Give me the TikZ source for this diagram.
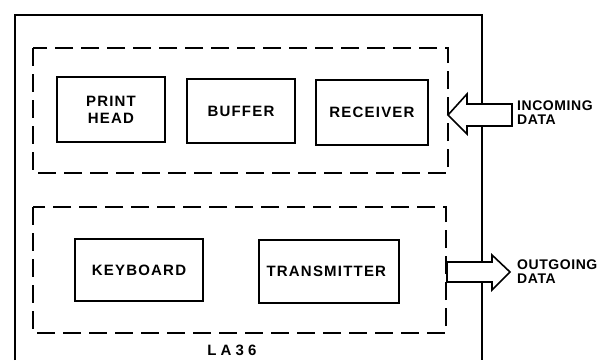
\documentclass[tikz,border=0pt]{standalone}
\usepackage{fontspec}
\setmainfont{Liberation Sans}
\usepackage{tikz}

\tikzset{
    unit/.style={draw, line width=1.4pt, inner sep=0pt, align=center,
        font=\fontsize{15}{17}\selectfont\bfseries\addfontfeature{LetterSpace=8}},
    group/.style={line width=2.4pt, dash pattern=on 18pt off 8pt},
    blockarrow/.style={draw, line width=1.6pt, fill=white, line join=miter},
    sidetext/.style={anchor=west, align=left, inner sep=0pt,
        font=\fontsize{14}{14}\selectfont\bfseries\addfontfeature{LetterSpace=4}}
}

\begin{document}
\begin{tikzpicture}[x=1pt, y=-1pt]
    		\useasboundingbox (0,0) rectangle (607,360);
    		
    		% outer frame, open at the bottom
    		\draw[line width=2pt] (15,360) -- (15,15) -- (482,15) -- (482,360);
    		
    		% the two dashed groups
    		\draw[group] (33,48) rectangle (448,173);
    		\draw[group] (33,207) rectangle (446,333);
    		
    		\foreach \name/\x/\y/\w/\h/\label in {
    			head/111/109.5/108/65/{PRINT\\HEAD},
    			buffer/241/111/108/64/BUFFER,
    			receiver/372/112.5/112/65/RECEIVER,
    			keyboard/139/270/128/62/KEYBOARD,
    			transmitter/329/271.5/140/63/TRANSMITTER
    		}{
    			\node[unit, minimum width=\w pt, minimum height=\h pt] (\name) at (\x,\y) {\label};
    		}
    		
    		\node[font=\fontsize{15}{15}\selectfont\bfseries] (model) at (232,350) {L A 3 6};
    		
    		% incoming data arrow
    		\coordinate (intip) at (448,115);
    		\draw[blockarrow] (intip) -- (467,94) -- (467,104) -- (512,104)
    			-- (512,126) -- (467,126) -- (467,134) -- cycle;
    		\node[sidetext] (incoming) at (517,113) {INCOMING\\DATA};
    		
    		% outgoing data arrow
    		\coordinate (outtip) at (510,272);
    		\draw[blockarrow] (outtip) -- (492,255) -- (492,262) -- (447,262)
    			-- (447,282) -- (492,282) -- (492,290) -- cycle;
    		\node[sidetext] (outgoing) at (517,272) {OUTGOING\\DATA};
    	\end{tikzpicture}
\end{document}
